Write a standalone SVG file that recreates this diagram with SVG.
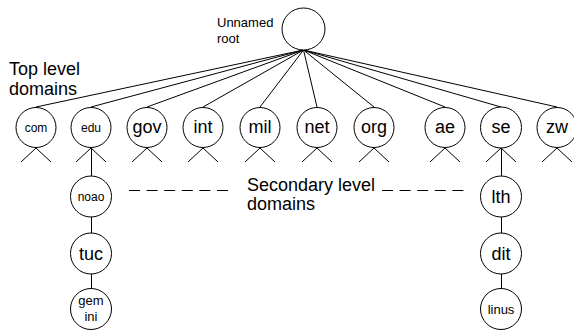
<svg xmlns="http://www.w3.org/2000/svg" width="574" height="331" viewBox="0 0 574 331">
<style>
.n{fill:#fff;stroke:#000;stroke-width:1}
.c{stroke:#000;stroke-width:1;fill:none}
.d{stroke:#000;stroke-width:1;fill:none;stroke-dasharray:11 6.6}
text{font-family:"Liberation Sans",Arial,sans-serif;fill:#000}
.b{font-size:18px;text-anchor:middle}
.s{font-size:12px;text-anchor:middle}
.m{font-size:13px;text-anchor:middle}
.l{font-size:18px}
</style>
<rect width="574" height="331" fill="#fff"/>
<g id="connectors">
<line class="c" x1="303.5" y1="50" x2="36" y2="107"/>
<line class="c" x1="303.5" y1="50" x2="91" y2="107"/>
<line class="c" x1="303.5" y1="50" x2="147" y2="107"/>
<line class="c" x1="303.5" y1="50" x2="203" y2="107"/>
<line class="c" x1="303.5" y1="50" x2="260" y2="107"/>
<line class="c" x1="303.5" y1="50" x2="317" y2="107"/>
<line class="c" x1="303.5" y1="50" x2="374" y2="107"/>
<line class="c" x1="303.5" y1="50" x2="445" y2="107"/>
<line class="c" x1="303.5" y1="50" x2="501" y2="107"/>
<line class="c" x1="303.5" y1="50" x2="557" y2="107"/>
<polyline class="c" points="21,162 36,148 51,162"/>
<polyline class="c" points="76,162 91,148 106,162"/>
<polyline class="c" points="132,162 147,148 162,162"/>
<polyline class="c" points="188,162 203,148 218,162"/>
<polyline class="c" points="245,162 260,148 275,162"/>
<polyline class="c" points="302,162 317,148 332,162"/>
<polyline class="c" points="359,162 374,148 389,162"/>
<polyline class="c" points="430,162 445,148 460,162"/>
<polyline class="c" points="486,162 501,148 516,162"/>
<polyline class="c" points="542,162 557,148 572,162"/>
<line class="c" x1="91.5" y1="148" x2="91.5" y2="176"/>
<line class="c" x1="91.5" y1="217" x2="91.5" y2="233"/>
<line class="c" x1="91.5" y1="274" x2="91.5" y2="288"/>
<line class="c" x1="501.5" y1="148" x2="501.5" y2="176"/>
<line class="c" x1="501.5" y1="217" x2="501.5" y2="233"/>
<line class="c" x1="501.5" y1="274" x2="501.5" y2="288"/>
<line class="d" x1="129" y1="190.5" x2="228" y2="190.5"/>
<line class="d" x1="382" y1="190.5" x2="465" y2="190.5"/>
</g>
<g id="root"><ellipse class="n" cx="303.5" cy="29" rx="21.5" ry="21"/>
<text x="217" y="27" font-size="13">Unnamed</text><text x="217" y="43" font-size="13">root</text></g>
<g id="label-top"><text class="l" x="9" y="75">Top level</text><text class="l" x="9" y="95">domains</text></g>
<g id="label-second"><text class="l" x="247" y="191">Secondary level</text><text class="l" x="247" y="210">domains</text></g>
<g id="com"><circle class="n" cx="36" cy="127.5" r="20"/><text class="s" x="36" y="131.5">com</text></g>
<g id="edu"><circle class="n" cx="91" cy="127.5" r="20"/><text class="s" x="91" y="131.5">edu</text></g>
<g id="gov"><circle class="n" cx="147" cy="127.5" r="20"/><text class="b" x="147" y="133">gov</text></g>
<g id="int"><circle class="n" cx="203" cy="127.5" r="20"/><text class="b" x="203" y="133">int</text></g>
<g id="mil"><circle class="n" cx="260" cy="127.5" r="20"/><text class="b" x="260" y="133">mil</text></g>
<g id="net"><circle class="n" cx="317" cy="127.5" r="20"/><text class="b" x="317" y="133">net</text></g>
<g id="org"><circle class="n" cx="374" cy="127.5" r="20"/><text class="b" x="374" y="133">org</text></g>
<g id="ae"><circle class="n" cx="445" cy="127.5" r="20"/><text class="b" x="445" y="133">ae</text></g>
<g id="se"><circle class="n" cx="501" cy="127.5" r="20.5"/><text class="b" x="501" y="133">se</text></g>
<g id="zw"><circle class="n" cx="557" cy="127.5" r="20"/><text class="b" x="557" y="133">zw</text></g>
<g id="noao"><circle class="n" cx="91" cy="196.5" r="20.5"/><text class="s" x="91" y="200.5">noao</text></g>
<g id="tuc"><circle class="n" cx="91" cy="253.5" r="20.5"/><text class="b" x="91" y="259.5">tuc</text></g>
<g id="gemini"><circle class="n" cx="91" cy="309" r="20.5"/><text class="m" x="91" y="305">gem</text><text class="m" x="91" y="321">ini</text></g>
<g id="lth"><circle class="n" cx="501" cy="196.5" r="20.5"/><text class="b" x="501" y="202.5">lth</text></g>
<g id="dit"><circle class="n" cx="501" cy="253.5" r="20.5"/><text class="b" x="501" y="259.5">dit</text></g>
<g id="linus"><circle class="n" cx="501" cy="309" r="20.5"/><text class="m" x="501" y="313.5">linus</text></g>
</svg>
